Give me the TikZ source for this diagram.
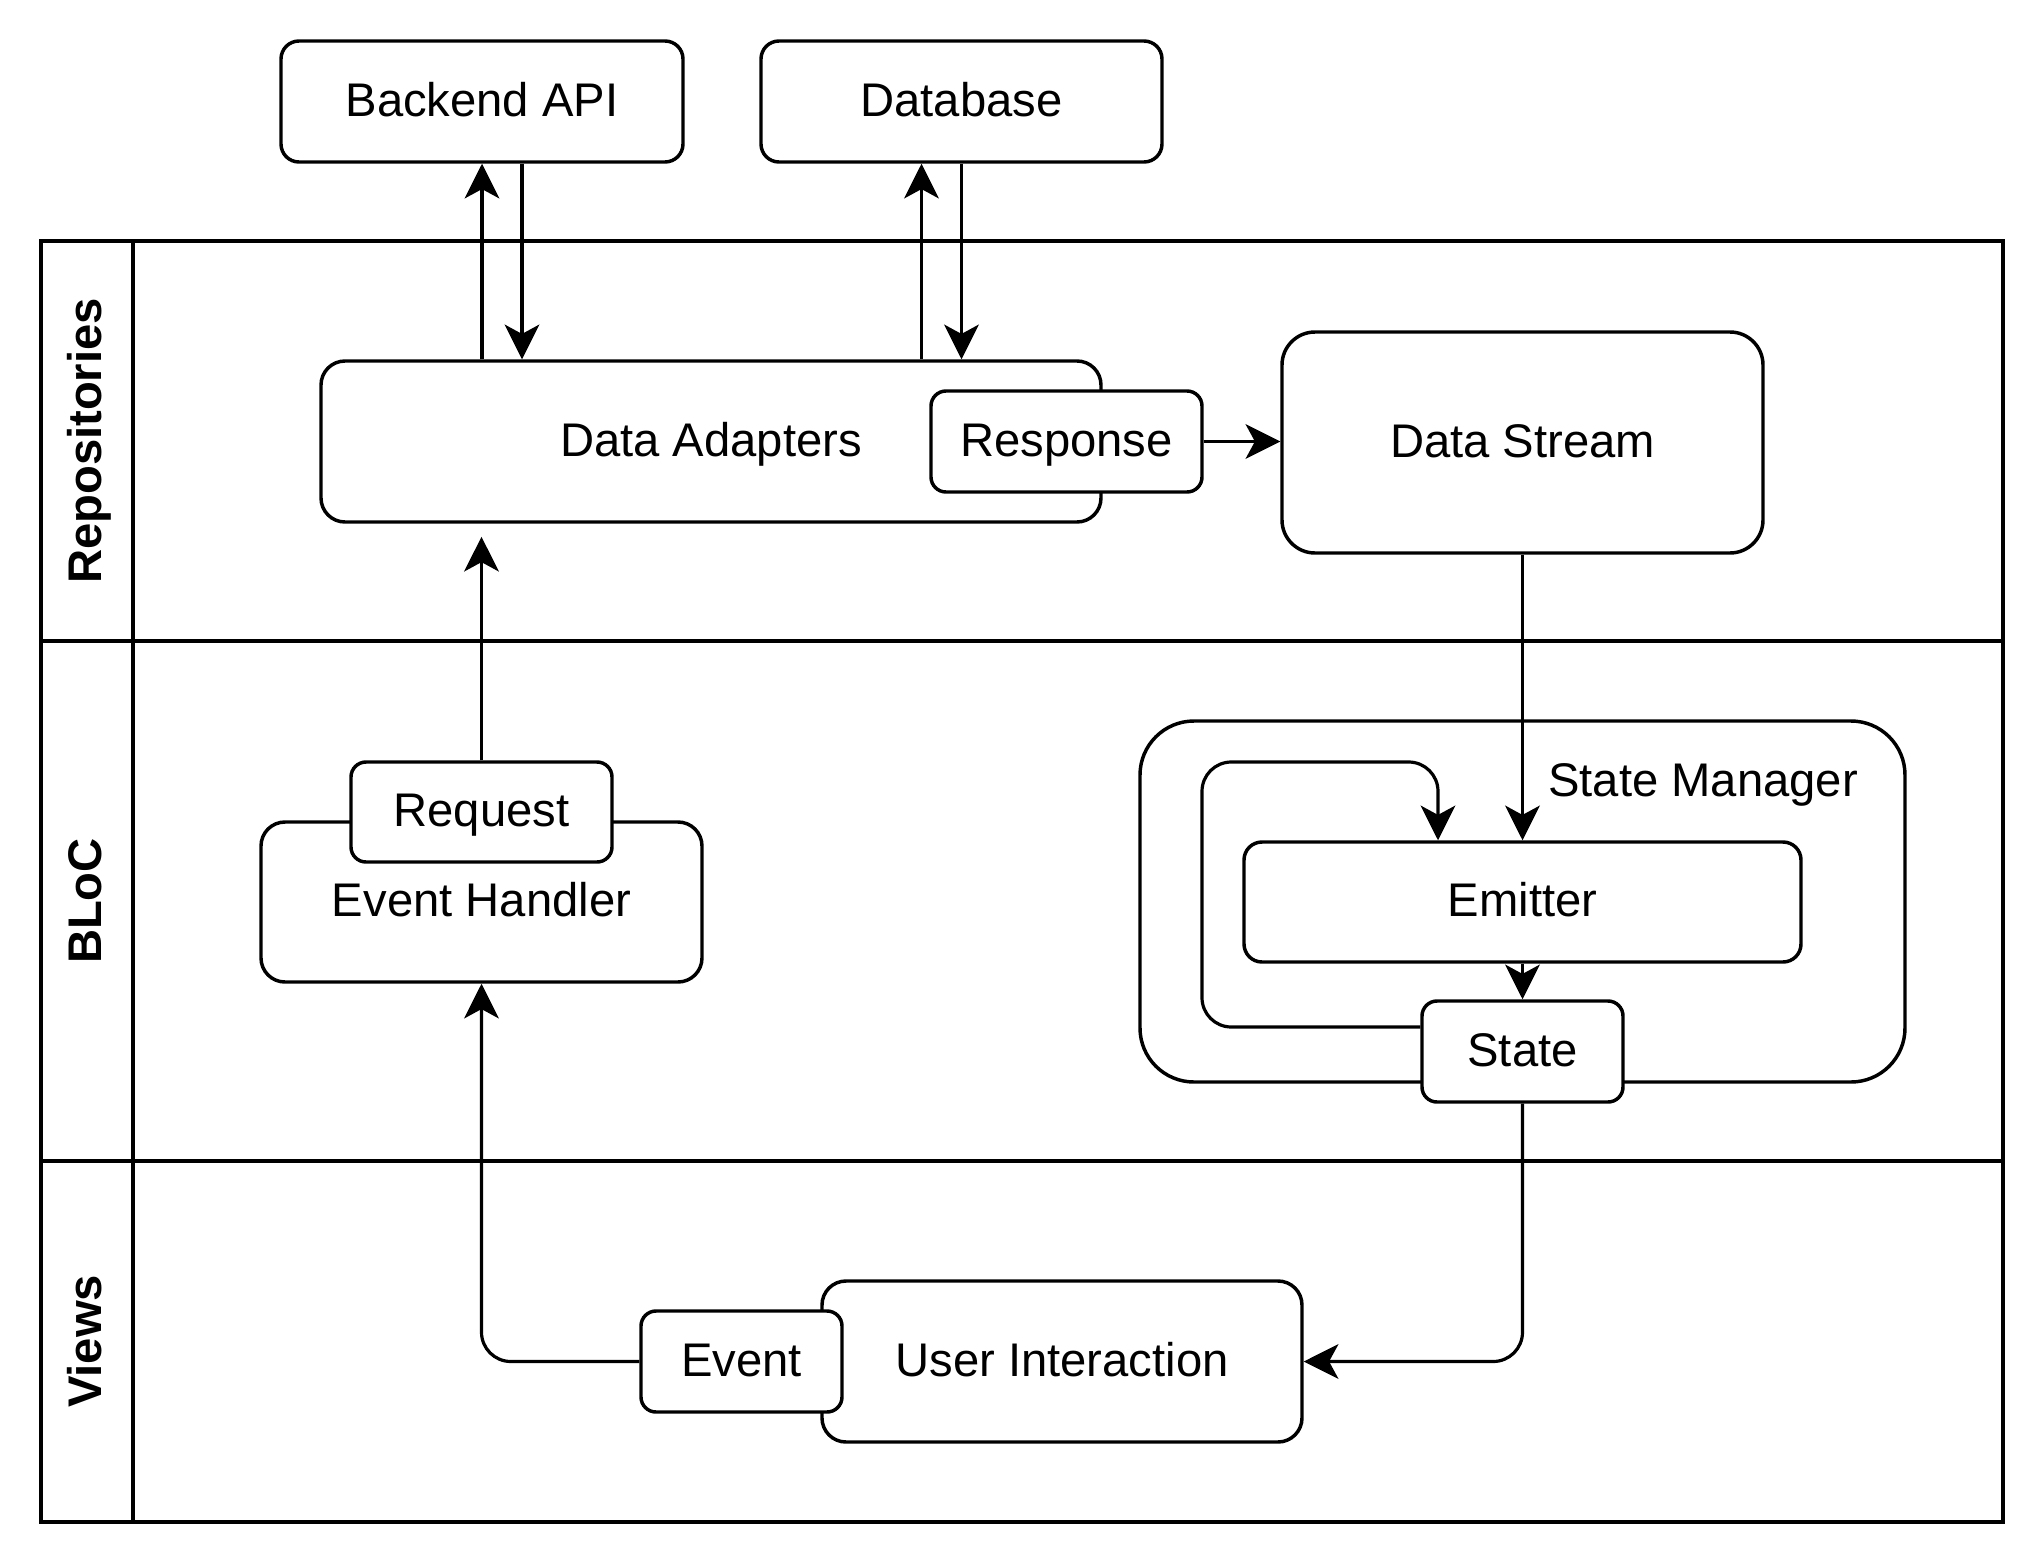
\documentclass[tikz,border=0pt]{standalone}
\usepackage{fontspec}
\setmainfont{Liberation Sans}
\usetikzlibrary{arrows.meta}

\begin{document}
\begin{tikzpicture}[
        x=0.375pt, y=-0.375pt,
        txt/.style={font=\fontsize{17.7}{21}\selectfont, text height=10.9pt, text depth=0pt, inner sep=0pt},
        box/.style n args={3}{txt, draw, line width=1.3pt, fill=white, rounded corners={#3*\px}, minimum width={#1*\px}, minimum height={#2*\px}},
        lanetitle/.style={txt, rotate=90, font=\fontsize{17.7}{21}\selectfont\bfseries},
        flow/.style={-{Stealth[length=13pt, width=13pt, inset=3.5pt]}, line width=1.2pt}
    ]

        \def\px{0.375pt}
        \def\poolLeft{41}
        \def\poolRight{2003}
        \def\poolTop{241}
        \def\titleRight{133}

        \useasboundingbox (0,0) rectangle (2044,1564);

        % pool
        \draw[line width=1.3pt] (\poolLeft,\poolTop) rectangle (\poolRight,1522);
        \draw[line width=1.3pt] (\titleRight,\poolTop) -- (\titleRight,1522);

        % lanes
        \foreach \laneName/\laneTop/\laneBottom in {Repositories/241/641, BLoC/641/1161, Views/1161/1522}
        {
            \draw[line width=1.3pt] (\poolLeft,\laneBottom) -- (\poolRight,\laneBottom);
            \node[lanetitle] (lane\laneName) at (87,{(\laneTop+\laneBottom)/2}) {\laneName};
        }

        % outside services
        \node[box={402}{121}{18}] (backend) at (482,101.5) {Backend API};
        \node[box={401}{121}{18}] (database) at (961.5,101.5) {Database};

        % repositories
        \node[box={780}{161}{24}] (adapters) at (711,441.5) {Data Adapters};
        \node[box={271}{101}{15}] (response) at (1066.5,441.5) {Response};
        \node[box={481}{221}{33}] (stream) at (1522.5,442.5) {Data Stream};

        % bloc
        \node[box={441}{160}{24}] (handler) at (481.5,902) {Event Handler};
        \node[box={261}{100}{15}] (request) at (481.5,812) {Request};
        \node[box={765}{361}{54}] (manager) at (1522.5,901.5) {};
        \node[txt] (managerTitle) at (1703,782) {State Manager};
        \node[box={557}{120}{18}] (emitter) at (1522.5,902) {Emitter};
        \node[box={201}{101}{15}] (state) at (1522.5,1051.5) {State};

        % views
        \node[box={480}{161}{24}] (interaction) at (1062,1361.5) {User Interaction};
        \node[box={201}{101}{15}] (event) at (741.5,1361.5) {Event};

        % adapters <-> services
        \draw[flow] (adapters.north -| backend.south) -- (backend.south);
        \draw[flow] ([xshift=15pt]backend.south) -- ([xshift=15pt]backend.south |- adapters.north);
        \draw[flow] ([xshift=-15pt]database.south |- adapters.north) -- ([xshift=-15pt]database.south);
        \draw[flow] (database.south) -- (database.south |- adapters.north);

        % data flow
        \draw[flow] (response.east) -- (response.east -| stream.west);
        \draw[flow] (stream.south) -- (emitter.north);
        \draw[flow] (emitter.south) -- (state.north);
        \draw[flow, shorten >=4.9pt] (request.north) -- (request.north |- adapters.south);

        %state loop
        \coordinate (loopLow) at (1202,1027);
        \coordinate (loopHigh) at (1202,762);
        \draw[flow, rounded corners=11pt] (state.west |- loopLow) -- (loopLow) -- (loopHigh) -| ([xshift=-84.5*\px]emitter.north);

        %views round trip
        \draw[flow, rounded corners=11pt] (state.south) |- (interaction.east);
        \draw[flow, rounded corners=11pt] (event.west) -| (handler.south);

    \end{tikzpicture}
\end{document}
